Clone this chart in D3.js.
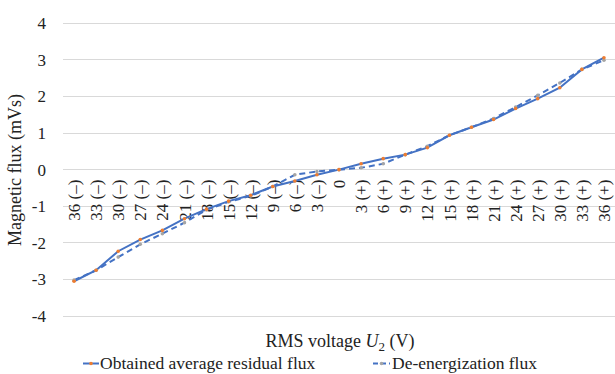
<!DOCTYPE html>
<html>
<head>
<meta charset="utf-8">
<script src="https://cdn.jsdelivr.net/npm/d3@7"></script>
<style>
body { margin: 0; background: #fff; }
svg text { font-family: "Times New Roman", "Liberation Serif", "DejaVu Serif", "Noto Serif", serif; fill: #222; }
.grid line { stroke: #d9d9d9; stroke-width: 1px; shape-rendering: crispEdges; }
</style>
</head>
<body>
<svg width="615" height="374"></svg>
<script>
// categories along the x axis
var categories = ["36 (–)", "33 (–)", "30 (–)", "27 (–)", "24 (–)", "21 (–)", "18 (–)", "15 (–)", "12 (–)", "9 (–)", "6 (–)", "3 (–)", "0",
  "3 (+)", "6 (+)", "9 (+)", "12 (+)", "15 (+)", "18 (+)", "21 (+)", "24 (+)", "27 (+)", "30 (+)", "33 (+)", "36 (+)"];

// Obtained average residual flux (mVs)
var residual = [-3.05, -2.75, -2.23, -1.91, -1.66, -1.34, -1.08, -0.86, -0.70, -0.46, -0.31, -0.14, 0,
  0.16, 0.30, 0.41, 0.60, 0.94, 1.16, 1.37, 1.67, 1.94, 2.24, 2.74, 3.06];

// De-energization flux (mVs)
var deenerg = [-3.02, -2.75, -2.39, -2.04, -1.75, -1.45, -1.10, -0.88, -0.72, -0.46, -0.14, -0.05, 0,
  0.05, 0.16, 0.41, 0.64, 0.94, 1.16, 1.40, 1.71, 2.03, 2.37, 2.74, 2.99];

var yTicks = [-4, -3, -2, -1, 0, 1, 2, 3, 4];

var svg = d3.select("svg");
var plotLeft = 63, plotRight = 615, plotTop = 23.3, plotBottom = 316;

var x = d3.scalePoint().domain(categories).range([plotLeft, plotRight]).padding(0.5);
var y = d3.scaleLinear().domain([-4, 4]).range([plotBottom, plotTop]);

// gridlines
svg.append("g").attr("class", "grid")
  .selectAll("line").data(yTicks).enter().append("line")
  .attr("x1", plotLeft).attr("x2", plotRight)
  .attr("y1", function(d) { return y(d); })
  .attr("y2", function(d) { return y(d); });

// y axis labels (plain hyphen like the original)
var yAxis = d3.axisLeft(y).tickValues(yTicks).tickSize(0).tickPadding(0)
  .tickFormat(function(d) { return String(d); });
var gy = svg.append("g").attr("transform", "translate(46,0)").call(yAxis);
gy.select(".domain").remove();
gy.attr("font-family", null);
gy.selectAll("text").style("font-size", "17px").attr("fill", "#222");

// category labels, rotated, hanging below the zero line
var xAxis = d3.axisBottom(x).tickSize(0).tickPadding(0);
var gx = svg.append("g").attr("transform", "translate(0," + y(0) + ")").call(xAxis);
gx.select(".domain").remove();
gx.attr("font-family", null);
gx.selectAll("text")
  .style("font-size", "17px").attr("fill", "#222")
  .attr("text-anchor", "end")
  .attr("transform", "rotate(-90)")
  .attr("x", -10).attr("y", 0).attr("dy", "0.33em");

var line = d3.line()
  .x(function(d, i) { return x(categories[i]); })
  .y(function(d) { return y(d); });

svg.append("path").datum(deenerg)
  .attr("d", line).attr("fill", "none")
  .attr("stroke", "#4472c4").attr("stroke-width", 2).attr("stroke-dasharray", "6,4");

svg.append("path").datum(residual)
  .attr("d", line).attr("fill", "none")
  .attr("stroke", "#4472c4").attr("stroke-width", 2);

svg.selectAll(".m2").data(deenerg).enter().append("circle")
  .attr("cx", function(d, i) { return x(categories[i]); })
  .attr("cy", function(d) { return y(d); })
  .attr("r", 1.8).attr("fill", "#a5a5a5");

svg.selectAll(".m1").data(residual).enter().append("circle")
  .attr("cx", function(d, i) { return x(categories[i]); })
  .attr("cy", function(d) { return y(d); })
  .attr("r", 1.8).attr("fill", "#ed7d31");

// axis titles
svg.append("text")
  .attr("transform", "translate(21,170) rotate(-90)")
  .attr("text-anchor", "middle").style("font-size", "18px")
  .text("Magnetic flux (mVs)");

var xt = svg.append("text")
  .attr("x", 340).attr("y", 347)
  .attr("text-anchor", "middle").style("font-size", "18px");
xt.append("tspan").text("RMS voltage ");
xt.append("tspan").style("font-style", "italic").text("U");
xt.append("tspan").attr("dy", 4).style("font-size", "13px").text("2");
xt.append("tspan").attr("dy", -4).text(" (V)");

// legend
var lg = svg.append("g");
lg.append("line").attr("x1", 83).attr("x2", 99).attr("y1", 363.5).attr("y2", 363.5)
  .attr("stroke", "#4472c4").attr("stroke-width", 2);
lg.append("circle").attr("cx", 91).attr("cy", 363.5).attr("r", 1.8).attr("fill", "#ed7d31");
lg.append("text").attr("x", 100).attr("y", 369).style("font-size", "17.5px")
  .text("Obtained average residual flux");

lg.append("line").attr("x1", 373).attr("x2", 390).attr("y1", 363.5).attr("y2", 363.5)
  .attr("stroke", "#4472c4").attr("stroke-width", 2).attr("stroke-dasharray", "5,3");
lg.append("circle").attr("cx", 381.5).attr("cy", 363.5).attr("r", 1.8).attr("fill", "#a5a5a5");
lg.append("text").attr("x", 392).attr("y", 369).style("font-size", "17.5px")
  .text("De-energization flux");
</script>
</body>
</html>
